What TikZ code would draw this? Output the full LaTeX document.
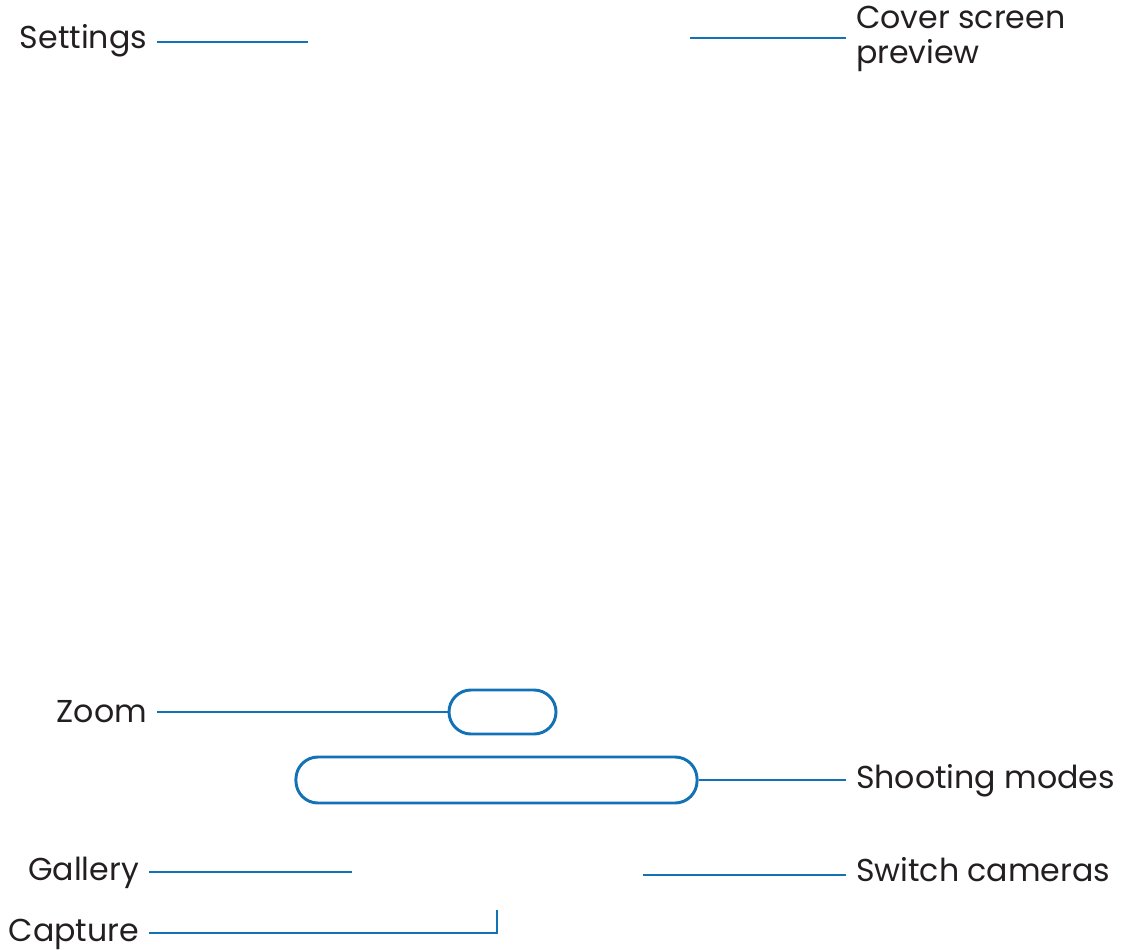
\documentclass[tikz,border=0pt]{standalone}
\usepackage{fontspec}
\setmainfont{Poppins}
\usepackage{xcolor}
\usetikzlibrary{positioning}
\definecolor{callout}{HTML}{1272B5}
\definecolor{labelink}{HTML}{231F20}

\begin{document}
\begin{tikzpicture}[
    x=0.025cm, y=-0.025cm,
    lbl/.style={font=\fontsize{22.5}{24.2}\selectfont, text=labelink, inner sep=0pt, outer xsep=0.25cm, align=left},
    lead/.style={draw=callout, line width=2.1pt},
    pill/.style={draw=callout, line width=2.1pt, rounded corners=0.55cm, inner sep=0pt}
]
    \useasboundingbox (0,0) rectangle (1131,949);

    % labels on the left
    \node[lbl, anchor=base east] (settings) at (157,48) {Settings};
    \node[lbl, anchor=base east] (zoom) at (157,722) {Zoom};
    \node[lbl, anchor=base east] (gallery) at (149,880) {Gallery};
    \node[lbl, anchor=base east] (capture) at (149,941) {Capture};

    % labels on the right
    \node[lbl, anchor=base west] (cover) at (846,63) {Cover screen\\preview};
    \node[lbl, anchor=base west] (modes) at (846,788) {Shooting modes};
    \node[lbl, anchor=base west] (switch) at (846,881) {Switch cameras};

    % controls
    \node[pill, minimum width=2.675cm, minimum height=1.1cm] (zoompill) at (502.5,712) {};
    \node[pill, minimum width=10.025cm, minimum height=1.15cm] (modepill) at (496.5,780) {};

    % free line ends
    \coordinate (setEnd) at (308,42);
    \coordinate (coverEnd) at (690,38);
    \coordinate (galEnd) at (352,872);
    \coordinate (swEnd) at (643,875);
    \coordinate (capEnd) at (497,910);

    \draw[lead] (settings.east |- setEnd) -- (setEnd);
    \draw[lead] (coverEnd) -- (cover.west |- coverEnd);
    \draw[lead] (zoom.east |- zoompill.west) -- (zoompill.west);
    \draw[lead] (modepill.east) -- (modes.west |- modepill.east);
    \draw[lead] (gallery.east |- galEnd) -- (galEnd);
    \draw[lead] (swEnd) -- (switch.west |- swEnd);
    \draw[lead] (capture.east |- 0,933) -| (capEnd);
\end{tikzpicture}
\end{document}
